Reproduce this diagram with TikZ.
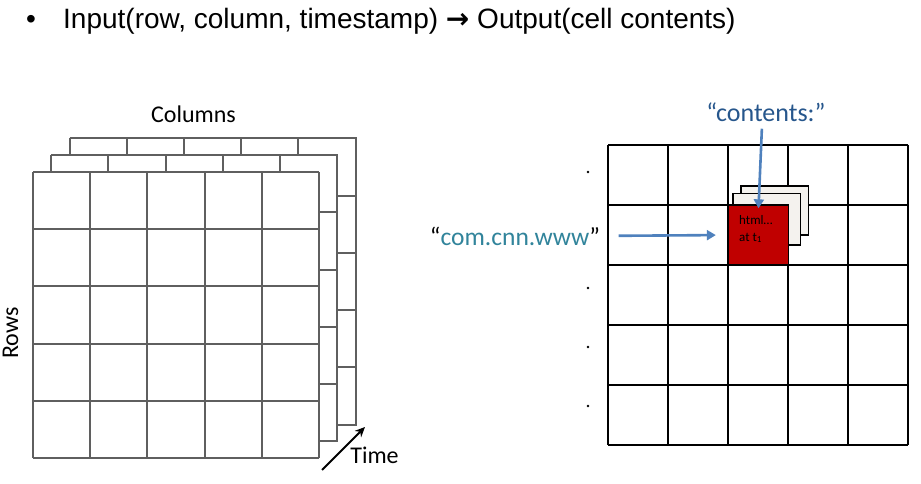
\documentclass[tikz,border=0pt]{standalone}
\usepackage{fontspec}
\setmainfont{Carlito}
\newfontfamily\headfont{Liberation Sans}
\newfontfamily\arrowfont{DejaVu Sans}
\usetikzlibrary{arrows.meta}
\definecolor{gridgray}{RGB}{95,95,95}
\definecolor{cellred}{RGB}{192,0,0}
\definecolor{stackfill}{RGB}{244,242,238}
\definecolor{ptrblue}{RGB}{79,129,189}
\definecolor{keyteal}{RGB}{49,132,155}
\definecolor{colblue}{RGB}{38,86,140}

\begin{document}
\begin{tikzpicture}[x=1pt,y=-1pt,
    sheet/.style={gridgray,line width=2pt},
    cellline/.style={draw=black,line width=1.3pt},
    pointer/.style={ptrblue,line width=2.6pt,-{Triangle[length=9pt,width=10pt]}},
    label/.style={font=\fontsize{24}{27}\selectfont}]
  \useasboundingbox (0,0) rectangle (921,484);
      \node[font=\headfont\fontsize{28}{31}\selectfont,anchor=base] (bullet) at (31,29) {•};
      \node[font=\headfont\fontsize{28}{31}\selectfont,anchor=base west,inner sep=0pt] (headline) at (63,29)
        {Input(row, column, timestamp) {\arrowfont\bfseries →} Output(cell contents)};
      \foreach \k in {2,1}{
        \pgfmathsetmacro{\dx}{18.25*\k}
        \pgfmathsetmacro{\dy}{16.75*\k}
        \draw[sheet] (33+\dx,172-\dy) -- (319+\dx,172-\dy) -- (319+\dx,459-\dy);
        \foreach \i in {0,...,4}{
          \draw[sheet] (33+\dx+57.2*\i,172-\dy) -- ++(0,16.75);
        }
        \foreach \j in {1,...,5}{
          \draw[sheet] (319+\dx,172-\dy+57.2*\j) -- ++(-18.25,0);
        }
      }
      \foreach \i in {0,...,5}{
        \draw[sheet] (33+57.2*\i,172) -- ++(0,286);
        \draw[sheet] (33,172+57.2*\i) -- ++(286,0);
      }
      \node[label,anchor=base] (colhead) at (193.5,123) {Columns};
      \node[label,anchor=base,rotate=90] (rowhead) at (18,333) {Rows};
      \node[label,anchor=base] (timehead) at (374.5,463) {Time};
      \coordinate (t0) at (322,470);
      \coordinate (t1) at (365,427);
      \draw[line width=2pt,-{Stealth[length=10pt,width=9pt]}] (t0) -- (t1);
      \foreach \i in {0,...,5}{
        \draw[cellline] (608+60*\i,145) -- ++(0,300);
        \draw[cellline] (608,145+60*\i) -- ++(300,0);
      }
      \foreach \y in {172,288,347,406}{
        \fill (588,\y) circle (1.3);
      }
      \filldraw[cellline,fill=stackfill] (741,186) rectangle (808.5,235);
      \filldraw[cellline,fill=stackfill] (733,193.5) rectangle (800.5,245);
      \node[draw=black,line width=1.3pt,fill=cellred,minimum size=60pt,inner sep=0pt] (cell) at (758.5,235) {};
      \node[anchor=west,align=left,inner sep=0pt,font=\fontsize{13}{17}\selectfont] (celltext) at (739,229)
        {html…\\at t\textsubscript{1}};
      \node[label,font=\fontsize{26}{29}\selectfont,colblue,anchor=base] (contents) at (766,122) {“contents:”};
      \node[label,font=\fontsize{25.5}{29}\selectfont,keyteal,anchor=base] (rowkey) at (515,245)
        {{\color{black}“}com.cnn.www{\color{black}”}};
      \draw[pointer,shorten <=3pt] ([xshift=-4pt]contents.south) -- ([yshift=-4pt]cell.north);
      \draw[pointer,shorten <=15pt,shorten >=12pt] (rowkey.east) -- (cell.west);
\end{tikzpicture}
\end{document}
